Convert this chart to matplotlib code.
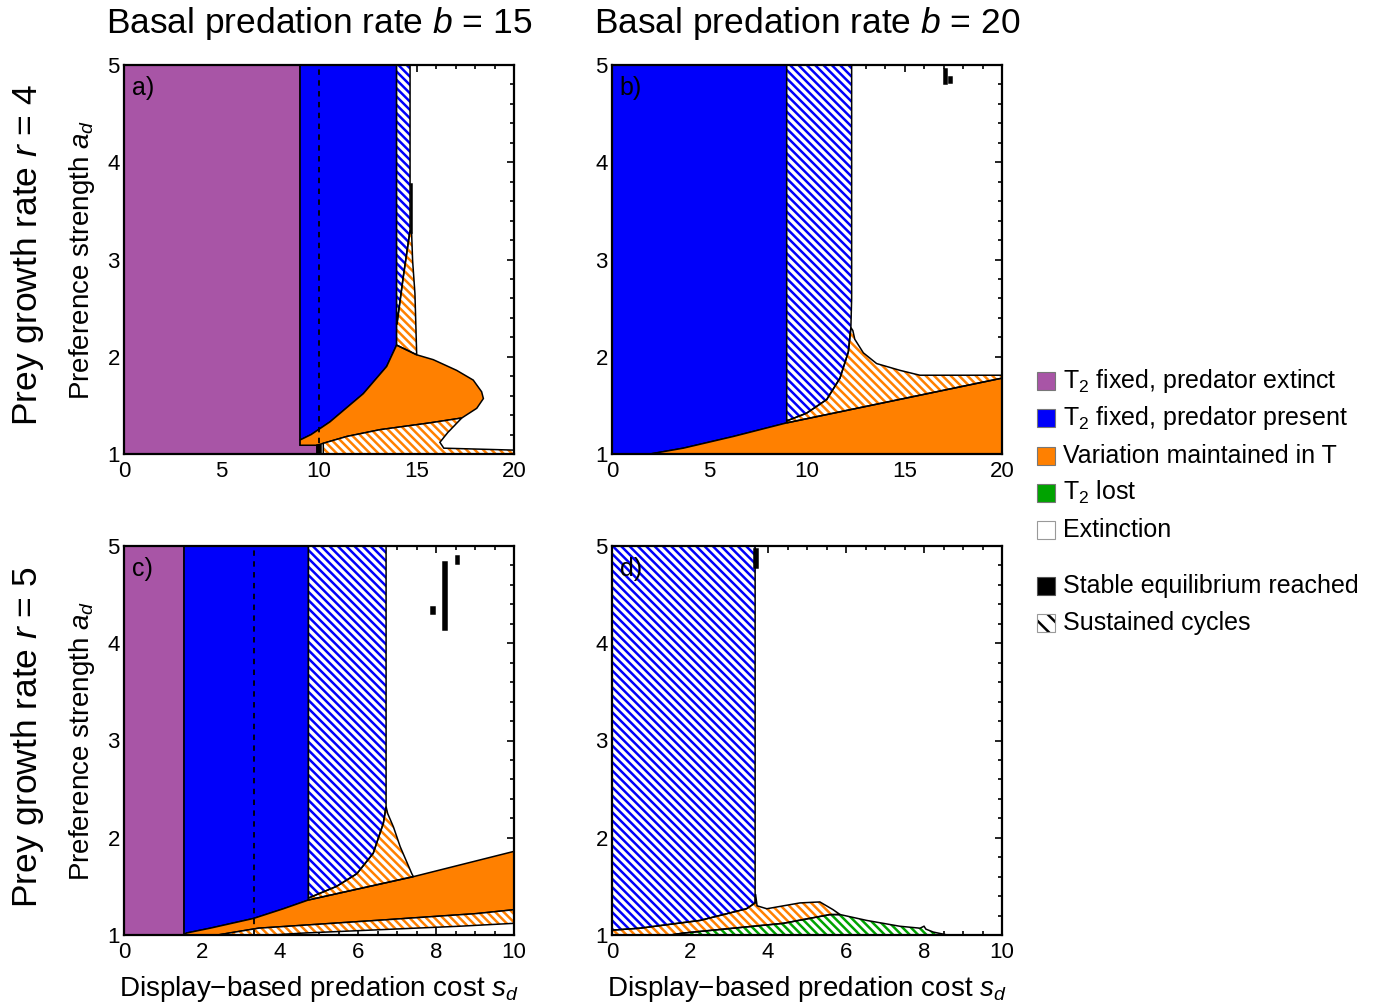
import matplotlib
matplotlib.use("Agg")
import matplotlib.pyplot as plt
from matplotlib.patches import Rectangle

plt.rcParams["font.family"] = ["Liberation Sans", "DejaVu Sans"]
plt.rcParams["mathtext.fontset"] = "custom"
plt.rcParams["mathtext.rm"] = "Liberation Sans"
plt.rcParams["mathtext.it"] = "Liberation Sans:italic"
plt.rcParams["hatch.linewidth"] = 1.8

PURPLE = "#A855A6"
BLUE = "#0000FA"
ORANGE = "#FF8000"
GREEN = "#00A300"
HATCH = "\\\\\\\\"

# ---- region boundaries (s_d, a_d) ----
# panel a: b = 15, r = 4
a_purple = [(0, 1), (0, 5), (9.03, 5), (9.03, 1.09), (9.9, 1.09), (9.9, 1.0)]
a_blue = [(9.03, 5), (13.98, 5), (13.98, 2.12), (13.47, 1.90), (12.27, 1.62),
          (10.56, 1.33), (9.6, 1.2), (9.03, 1.144)]
a_blue_cyc = [(13.98, 5), (14.67, 5), (14.67, 3.3), (14.32, 2.82), (14.0, 2.34),
              (13.98, 2.34)]
a_orange_cyc_top = [(13.98, 2.34), (14.0, 2.34), (14.32, 2.82), (14.67, 3.3),
                    (14.75, 3.27), (14.8, 2.99), (14.92, 2.65), (15.01, 2.02),
                    (13.98, 2.12)]
a_orange = [(9.03, 1.144), (9.6, 1.2), (10.56, 1.33), (12.27, 1.62), (13.47, 1.90),
            (13.98, 2.12), (15.01, 2.02), (15.86, 1.97), (17.06, 1.86),
            (17.91, 1.76), (18.34, 1.64), (18.43, 1.57), (18.09, 1.47),
            (17.32, 1.37), (15.69, 1.32), (13.13, 1.25), (11.42, 1.18),
            (10.22, 1.11), (9.9, 1.09), (9.03, 1.09)]
a_orange_cyc_low = [(10.22, 1.0), (10.22, 1.11), (11.42, 1.18), (13.13, 1.25),
                    (15.69, 1.32), (17.32, 1.37), (16.6, 1.22), (16.2, 1.12),
                    (16.4, 1.06), (20, 1.04), (20, 1.0)]
a_stable = [[(9.9, 1.0), (9.9, 1.09), (10.12, 1.09), (10.12, 1.0)],
            [(14.73, 3.78), (14.73, 3.27), (14.77, 3.27), (14.77, 3.78)]]
a_dashed = 10.0

# panel b: b = 20, r = 4
b_blue = [(0, 1), (0, 5), (8.96, 5), (8.96, 1.32), (6.22, 1.18), (3.66, 1.06),
          (1.95, 1.0)]
b_blue_cyc = [(8.96, 5), (12.29, 5), (12.29, 2.6), (12.25, 2.3), (12.12, 2.05),
              (11.69, 1.78), (11.01, 1.56), (9.98, 1.42), (8.96, 1.34)]
b_orange_cyc = [(8.96, 1.34), (9.98, 1.42), (11.01, 1.56), (11.69, 1.78),
                (12.12, 2.05), (12.25, 2.3), (12.35, 2.27), (12.45, 2.18),
                (12.89, 2.04), (13.57, 1.93), (14.77, 1.86), (15.79, 1.81),
                (20, 1.81), (20, 1.78), (8.96, 1.32)]
b_orange = [(1.95, 1.0), (3.66, 1.06), (6.22, 1.18), (8.96, 1.32), (20, 1.78),
            (20, 1.0)]
b_stable = [[(17.0, 4.8), (17.0, 4.96), (17.2, 4.96), (17.2, 4.8)],
            [(17.3, 4.82), (17.3, 4.88), (17.45, 4.88), (17.45, 4.82)]]

# panel c: b = 15, r = 5
c_purple = [(0, 1), (0, 5), (1.54, 5), (1.54, 1)]
c_blue = [(1.54, 5), (4.73, 5), (4.73, 1.36), (4.09, 1.27), (3.32, 1.17),
          (2.21, 1.07), (1.6, 1.02), (1.54, 1.0)]
c_blue_cyc = [(4.73, 5), (6.72, 5), (6.72, 2.32), (6.65, 2.15), (6.39, 1.84),
              (5.97, 1.63), (5.45, 1.50), (4.73, 1.38)]
c_orange_cyc_top = [(4.73, 1.38), (5.45, 1.50), (5.97, 1.63), (6.39, 1.84),
                    (6.65, 2.15), (6.72, 2.32), (6.76, 2.25), (6.91, 2.11),
                    (7.08, 1.91), (7.38, 1.63), (7.42, 1.60), (4.73, 1.36)]
c_orange = [(1.54, 1.0), (1.6, 1.02), (2.21, 1.07), (3.32, 1.17), (4.09, 1.27),
            (4.73, 1.36), (7.42, 1.60), (10, 1.86), (10, 1.26), (9.04, 1.22),
            (6.48, 1.15), (3.45, 1.07), (2.4, 1.0)]
c_orange_cyc_low = [(2.4, 1.0), (3.45, 1.07), (6.48, 1.15), (9.04, 1.22),
                    (10, 1.26), (10, 1.12), (8.6, 1.09), (4.6, 1.02), (3.8, 1.0)]
c_stable = [[(8.17, 4.14), (8.17, 4.84), (8.29, 4.84), (8.29, 4.14)],
            [(7.88, 4.30), (7.88, 4.37), (7.98, 4.37), (7.98, 4.30)],
            [(8.50, 4.82), (8.50, 4.90), (8.60, 4.90), (8.60, 4.82)]]
c_dashed = 10 / 3

# panel d: b = 20, r = 5
d_blue_cyc = [(0, 5), (3.67, 5), (3.67, 1.33), (3.45, 1.27), (2.26, 1.15),
              (0.72, 1.07), (0, 1.05)]
d_orange_cyc = [(0, 1.0), (0, 1.05), (0.72, 1.07), (2.26, 1.15), (3.45, 1.27),
                (3.67, 1.33), (3.68, 1.42), (3.72, 1.30), (3.97, 1.27),
                (4.82, 1.33), (5.33, 1.34), (5.67, 1.26), (5.85, 1.21),
                (5.59, 1.21), (4.39, 1.12), (3.11, 1.07), (1.83, 1.02), (1.5, 1.0)]
d_green_cyc = [(1.5, 1.0), (1.83, 1.02), (3.11, 1.07), (4.39, 1.12), (5.59, 1.21),
               (5.85, 1.21), (6.53, 1.15), (7.38, 1.09), (7.90, 1.07),
               (8.0, 1.09), (8.05, 1.06), (8.24, 1.03), (8.6, 1.0)]
d_stable = [[(3.64, 4.77), (3.64, 4.97), (3.74, 4.97), (3.74, 4.77)]]

col_titles = ["Basal predation rate $b$ = 15", "Basal predation rate $b$ = 20"]
row_titles = ["Prey growth rate $r$ = 4", "Prey growth rate $r$ = 5"]
panel_tags = ["a)", "b)", "c)", "d)"]
legend_labels = ["T$_2$ fixed, predator extinct", "T$_2$ fixed, predator present",
                 "Variation maintained in T", "T$_2$ lost", "Extinction"]
legend_colors = [PURPLE, BLUE, ORANGE, GREEN, "white"]


def solid(ax, poly, color):
    xs, ys = zip(*poly)
    ax.fill(xs, ys, facecolor=color, edgecolor="black", linewidth=1.1, zorder=2)


def cycles(ax, poly, color):
    xs, ys = zip(*poly)
    ax.fill(xs, ys, facecolor="white", edgecolor=color, hatch=HATCH,
            linewidth=0, zorder=2)
    ax.fill(xs, ys, fill=False, edgecolor="black", linewidth=1.1, zorder=3)


def style_axis(ax, xmax, xmajor, xminor, tag):
    ax.set_xlim(0, xmax)
    ax.set_ylim(1, 5)
    ax.set_xticks([xmajor * i for i in range(int(xmax / xmajor) + 1)])
    ax.set_xticks([xminor * i for i in range(int(xmax / xminor) + 1)], minor=True)
    ax.set_yticks([1, 2, 3, 4, 5])
    ax.set_yticks([1 + 0.2 * i for i in range(21)], minor=True)
    ax.set_xticklabels([str(int(v)) for v in ax.get_xticks()])
    ax.tick_params(which="both", direction="in", top=True, right=True,
                   labelsize=16, width=1.2)
    ax.tick_params(axis="x", pad=5)
    ax.tick_params(axis="y", pad=3)
    ax.tick_params(which="major", length=5)
    ax.tick_params(which="minor", length=3)
    for s in ax.spines.values():
        s.set_linewidth(1.6)
        s.set_zorder(10)
    ax.text(0.02, 0.972, tag, transform=ax.transAxes, va="top", ha="left",
            fontsize=18, zorder=12)


fig = plt.figure(figsize=(13.74, 10.06), dpi=100)
left = [124 / 1374, 612 / 1374]
bottom = [1 - 454 / 1006, 1 - 935 / 1006]
w, h = 390 / 1374, 389 / 1006
axes = [[fig.add_axes([left[c], bottom[r], w, h]) for c in range(2)] for r in range(2)]

ax = axes[0][0]
solid(ax, a_purple, PURPLE)
solid(ax, a_blue, BLUE)
cycles(ax, a_blue_cyc, BLUE)
cycles(ax, a_orange_cyc_top, ORANGE)
solid(ax, a_orange, ORANGE)
cycles(ax, a_orange_cyc_low, ORANGE)
for p in a_stable:
    solid(ax, p, "black")
ax.axvline(a_dashed, color="black", ls=(0, (3, 3)), lw=1.3, zorder=5)
style_axis(ax, 20, 5, 1, panel_tags[0])

ax = axes[0][1]
solid(ax, b_blue, BLUE)
cycles(ax, b_blue_cyc, BLUE)
cycles(ax, b_orange_cyc, ORANGE)
solid(ax, b_orange, ORANGE)
for p in b_stable:
    solid(ax, p, "black")
style_axis(ax, 20, 5, 1, panel_tags[1])

ax = axes[1][0]
solid(ax, c_purple, PURPLE)
solid(ax, c_blue, BLUE)
cycles(ax, c_blue_cyc, BLUE)
cycles(ax, c_orange_cyc_top, ORANGE)
solid(ax, c_orange, ORANGE)
cycles(ax, c_orange_cyc_low, ORANGE)
for p in c_stable:
    solid(ax, p, "black")
ax.axvline(c_dashed, color="black", ls=(0, (3, 3)), lw=1.3, zorder=5)
style_axis(ax, 10, 2, 0.5, panel_tags[2])

ax = axes[1][1]
cycles(ax, d_blue_cyc, BLUE)
cycles(ax, d_orange_cyc, ORANGE)
cycles(ax, d_green_cyc, GREEN)
for p in d_stable:
    solid(ax, p, "black")
style_axis(ax, 10, 2, 0.5, panel_tags[3])

for r in range(2):
    axes[r][0].set_ylabel("Preference strength $a_d$", fontsize=20)
    axes[r][0].yaxis.set_label_coords(-0.07, 0.5)
for c in range(2):
    axes[1][c].set_xlabel("Display\u2212based predation cost $s_d$", fontsize=20)
    axes[1][c].xaxis.set_label_coords(0.5, -0.1)

for c in range(2):
    fig.text(left[c] + w / 2, 1 - 24 / 1006, col_titles[c], fontsize=25.5,
             ha="center", va="center")
for r, yc in enumerate([1 - 255 / 1006, 1 - 737 / 1006]):
    fig.text(28 / 1374, yc, row_titles[r], fontsize=25.5, rotation=90,
             ha="center", va="center")

# legend drawn by hand
sq = 18
for i, (lab, col) in enumerate(zip(legend_labels, legend_colors)):
    yc = 381 + 37.3 * i
    edge = "#999999" if col == "white" else "#777777"
    fig.add_artist(Rectangle((1037 / 1374, 1 - (yc + sq / 2) / 1006), sq / 1374,
                             sq / 1006, facecolor=col, edgecolor=edge, lw=0.8,
                             transform=fig.transFigure))
    fig.text(1063 / 1374, 1 - yc / 1006, lab, fontsize=18, va="center", ha="left")

yc = 586
fig.add_artist(Rectangle((1037 / 1374, 1 - (yc + sq / 2) / 1006), sq / 1374,
                         sq / 1006, facecolor="black", edgecolor="#555555", lw=0.8,
                         transform=fig.transFigure))
fig.text(1063 / 1374, 1 - yc / 1006, "Stable equilibrium reached", fontsize=18,
         va="center", ha="left")
yc = 623
fig.add_artist(Rectangle((1037 / 1374, 1 - (yc + sq / 2) / 1006), sq / 1374,
                         sq / 1006, facecolor="white", edgecolor="black",
                         hatch="\\\\", lw=0, transform=fig.transFigure))
fig.add_artist(Rectangle((1037 / 1374, 1 - (yc + sq / 2) / 1006), sq / 1374,
                         sq / 1006, fill=False, edgecolor="#999999", lw=0.8,
                         transform=fig.transFigure))
fig.text(1063 / 1374, 1 - yc / 1006, "Sustained cycles", fontsize=18,
         va="center", ha="left")

fig.savefig("out.png", dpi=100)
